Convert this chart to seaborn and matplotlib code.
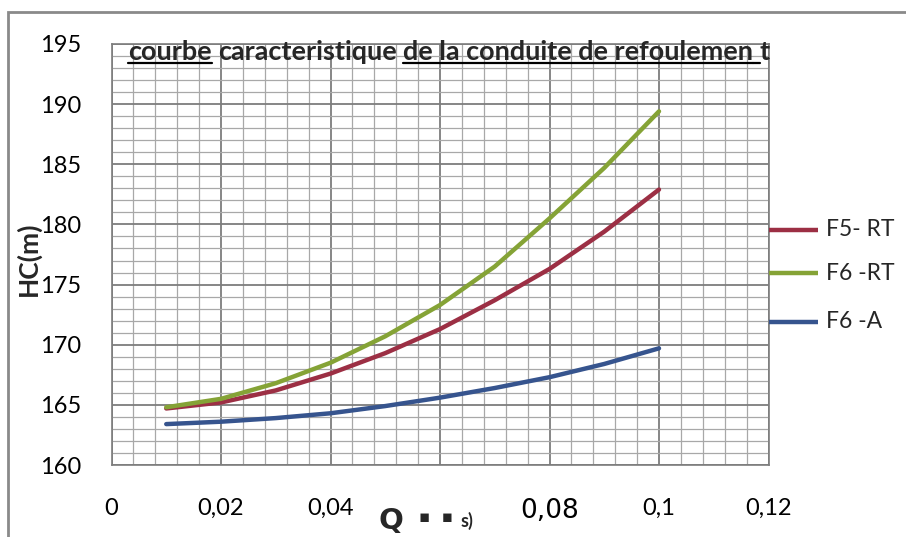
import numpy as np
import pandas as pd
import matplotlib
matplotlib.use("Agg")
import matplotlib.pyplot as plt
import seaborn as sns
from matplotlib.lines import Line2D
from matplotlib.patches import Rectangle
from matplotlib.ticker import MultipleLocator, FixedLocator, FixedFormatter

# ---- data -------------------------------------------------------------
q = [0.01, 0.02, 0.03, 0.04, 0.05, 0.06, 0.07, 0.08, 0.09, 0.10]
h_f5_rt = [164.7, 165.2, 166.2, 167.6, 169.3, 171.3, 173.7, 176.3, 179.4, 182.9]
h_f6_rt = [164.8, 165.5, 166.8, 168.5, 170.7, 173.3, 176.5, 180.5, 184.7, 189.4]
h_f6_a = [163.4, 163.6, 163.9, 164.3, 164.9, 165.6, 166.4, 167.3, 168.4, 169.7]
series = ["F5- RT", "F6 -RT", "F6 -A"]
colors = ["#9c2f44", "#85a336", "#36548e"]

x_ticks = [0, 0.02, 0.04, 0.06, 0.08, 0.10, 0.12]
x_tick_labels = ["0", "0,02", "0,04", "", "0,08", "0,1", "0,12"]
y_ticks = [160, 165, 170, 175, 180, 185, 190, 195]

title_runs = [("courbe", True), (" ", False), ("caracteristique", False),
              (" ", False), ("de la conduite de refoulemen", True),
              (" ", True), ("t", False)]

df = pd.DataFrame({
    "Q": q * 3,
    "HC": h_f5_rt + h_f6_rt + h_f6_a,
    "serie": [s for s in series for _ in q],
})

# ---- figure -----------------------------------------------------------
W, H = 906, 537
sns.set_style("white")
plt.rcParams["font.family"] = ["Lato", "DejaVu Sans"]

fig = plt.figure(figsize=(W / 100, H / 100), dpi=100)
fig.patch.set_facecolor("white")

def fx(px):
    return px / W

def fy(py):
    return (H - py) / H

ax = fig.add_axes([fx(111.5), fy(465), fx(768.5) - fx(111.5), fy(44) - fy(465)])

sns.lineplot(data=df, x="Q", y="HC", hue="serie", palette=dict(zip(series, colors)),
             hue_order=series, linewidth=3.2, legend=False, ax=ax, zorder=3)

ax.set_xlim(0, 0.12)
ax.set_ylim(160, 195)
ax.xaxis.set_major_locator(FixedLocator(x_ticks))
ax.xaxis.set_major_formatter(FixedFormatter(x_tick_labels))
ax.yaxis.set_major_locator(FixedLocator(y_ticks))
ax.xaxis.set_minor_locator(MultipleLocator(0.004))
ax.yaxis.set_minor_locator(MultipleLocator(1))

ax.grid(which="major", color="#7d7d7d", linewidth=1.3)
ax.grid(which="minor", color="#a8a8a8", linewidth=0.9)
ax.set_axisbelow(True)

ax.tick_params(axis="both", which="major", direction="out", length=5,
               color="#7d7d7d", width=1.2, labelsize=17, labelcolor="black")
ax.tick_params(axis="x", which="major", pad=19)
ax.tick_params(axis="y", which="major", pad=17)
ax.tick_params(axis="both", which="minor", direction="out", length=3,
               color="#a8a8a8", width=0.9)
for sp in ax.spines.values():
    sp.set_color("#7d7d7d")
    sp.set_linewidth(1.2)

# the 0,08 label is set in a wider face
lab08 = ax.get_xticklabels()[4]
lab08.set_fontfamily("DejaVu Sans")
lab08.set_fontsize(19)

ax.set_xlabel("")
ax.set_ylabel("")

# ---- axis titles ------------------------------------------------------
fig.text(fx(28), fy(259), "HC(m)", rotation=90, ha="center", va="center",
         fontsize=19, fontweight="bold")
fig.text(fx(391), fy(521), "Q", ha="center", va="center", fontsize=21,
         fontweight="bold", family="DejaVu Sans")
fig.text(fx(436), fy(517), "\u25aa  \u25aa", ha="center", va="center", fontsize=12,
         fontweight="bold", family="DejaVu Sans")
fig.text(fx(467), fy(521), "s)", ha="center", va="center", fontsize=13,
         fontweight="bold")

# ---- legend -----------------------------------------------------------
for name, col, ly in zip(series, colors, [230, 273, 322]):
    fig.add_artist(Line2D([fx(769), fx(818)], [fy(ly), fy(ly)], color=col,
                          linewidth=3.2, solid_capstyle="butt"))
    fig.text(fx(826), fy(ly), name, ha="left", va="center", fontsize=16.5)

# ---- title with partial underline -------------------------------------
renderer = fig.canvas.get_renderer()

def text_width(s, fs):
    t = fig.text(0, 0, s, fontsize=fs, fontweight="bold")
    w = t.get_window_extent(renderer).width
    t.remove()
    return w

def run_width(s, fs):
    if s.strip() == "":
        return text_width("a" + s + "a", fs) - text_width("aa", fs)
    return text_width(s, fs)

fs = 15.0
total = sum(run_width(s, fs) for s, _ in title_runs)
fs = fs * (647.0 / total)

x = 128.0
base = 60.0
for s, ul in title_runs:
    w = run_width(s, fs)
    if s.strip():
        fig.text(fx(x), fy(base), s, fontsize=fs, fontweight="bold",
                 ha="left", va="baseline", zorder=5)
    if ul:
        fig.add_artist(Line2D([fx(x), fx(x + w)], [fy(base + 3), fy(base + 3)],
                              color="black", linewidth=1.6, zorder=5))
    x += w

# ---- outer chart frame ------------------------------------------------
fig.add_artist(Rectangle((fx(8), -0.2), 1.2, fy(12) + 0.2, fill=False,
                         edgecolor="#8a8a8a", linewidth=2.0))

fig.savefig("out.png", dpi=100, facecolor="white")
